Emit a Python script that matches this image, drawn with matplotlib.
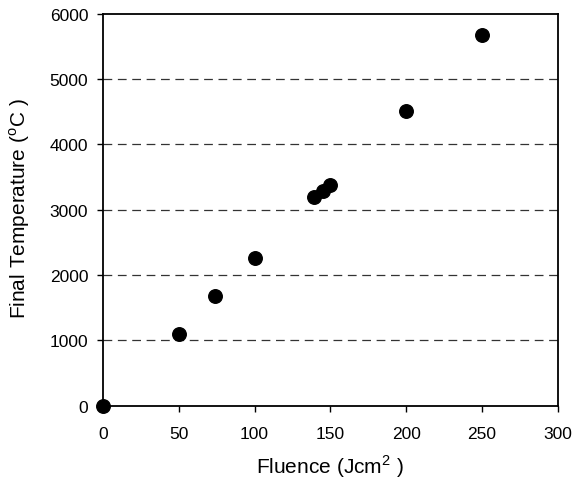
import matplotlib
matplotlib.use("Agg")
import matplotlib.pyplot as plt

plt.rcParams['font.family'] = ['Liberation Sans', 'DejaVu Sans']
plt.rcParams['mathtext.fontset'] = 'custom'
plt.rcParams['mathtext.rm'] = 'Liberation Sans'

fluence = [0, 50, 74, 100, 139, 145, 150, 200, 250]
final_temp = [0, 1095, 1675, 2255, 3200, 3290, 3385, 4510, 5670]
x_ticks = [0, 50, 100, 150, 200, 250, 300]
y_ticks = [0, 1000, 2000, 3000, 4000, 5000, 6000]

fig = plt.figure(figsize=(5.75, 4.81), dpi=100)
ax = fig.add_axes([0.179, 0.1545, 0.791, 0.815])

for yv in y_ticks[1:-1]:
    ax.axhline(yv, color='#333333', lw=0.9, dashes=(7, 4.5), zorder=1)

ax.scatter(fluence, final_temp, s=95, color='black', zorder=3, clip_on=False)

ax.set_xlim(0, 300)
ax.set_ylim(0, 6000)
ax.set_xticks(x_ticks)
ax.set_yticks(y_ticks)
ax.tick_params(direction='out', length=4.5, width=1, labelsize=12.5, colors='black')
ax.tick_params(axis='x', pad=10)
ax.tick_params(axis='y', pad=6)

for sp in ax.spines.values():
    sp.set_linewidth(1.3)
    sp.set_color('black')

ax.set_xlabel('Fluence (Jcm$^{2}$ )', fontsize=15)
ax.set_ylabel('Final Temperature ($^{\\mathrm{o}}$C )', fontsize=15)
ax.xaxis.label.set_va('center')
ax.yaxis.label.set_va('center')
ax.xaxis.set_label_coords(0.499, -0.154)
ax.yaxis.set_label_coords(-0.182, 0.506)

fig.savefig('out.png', dpi=100)
